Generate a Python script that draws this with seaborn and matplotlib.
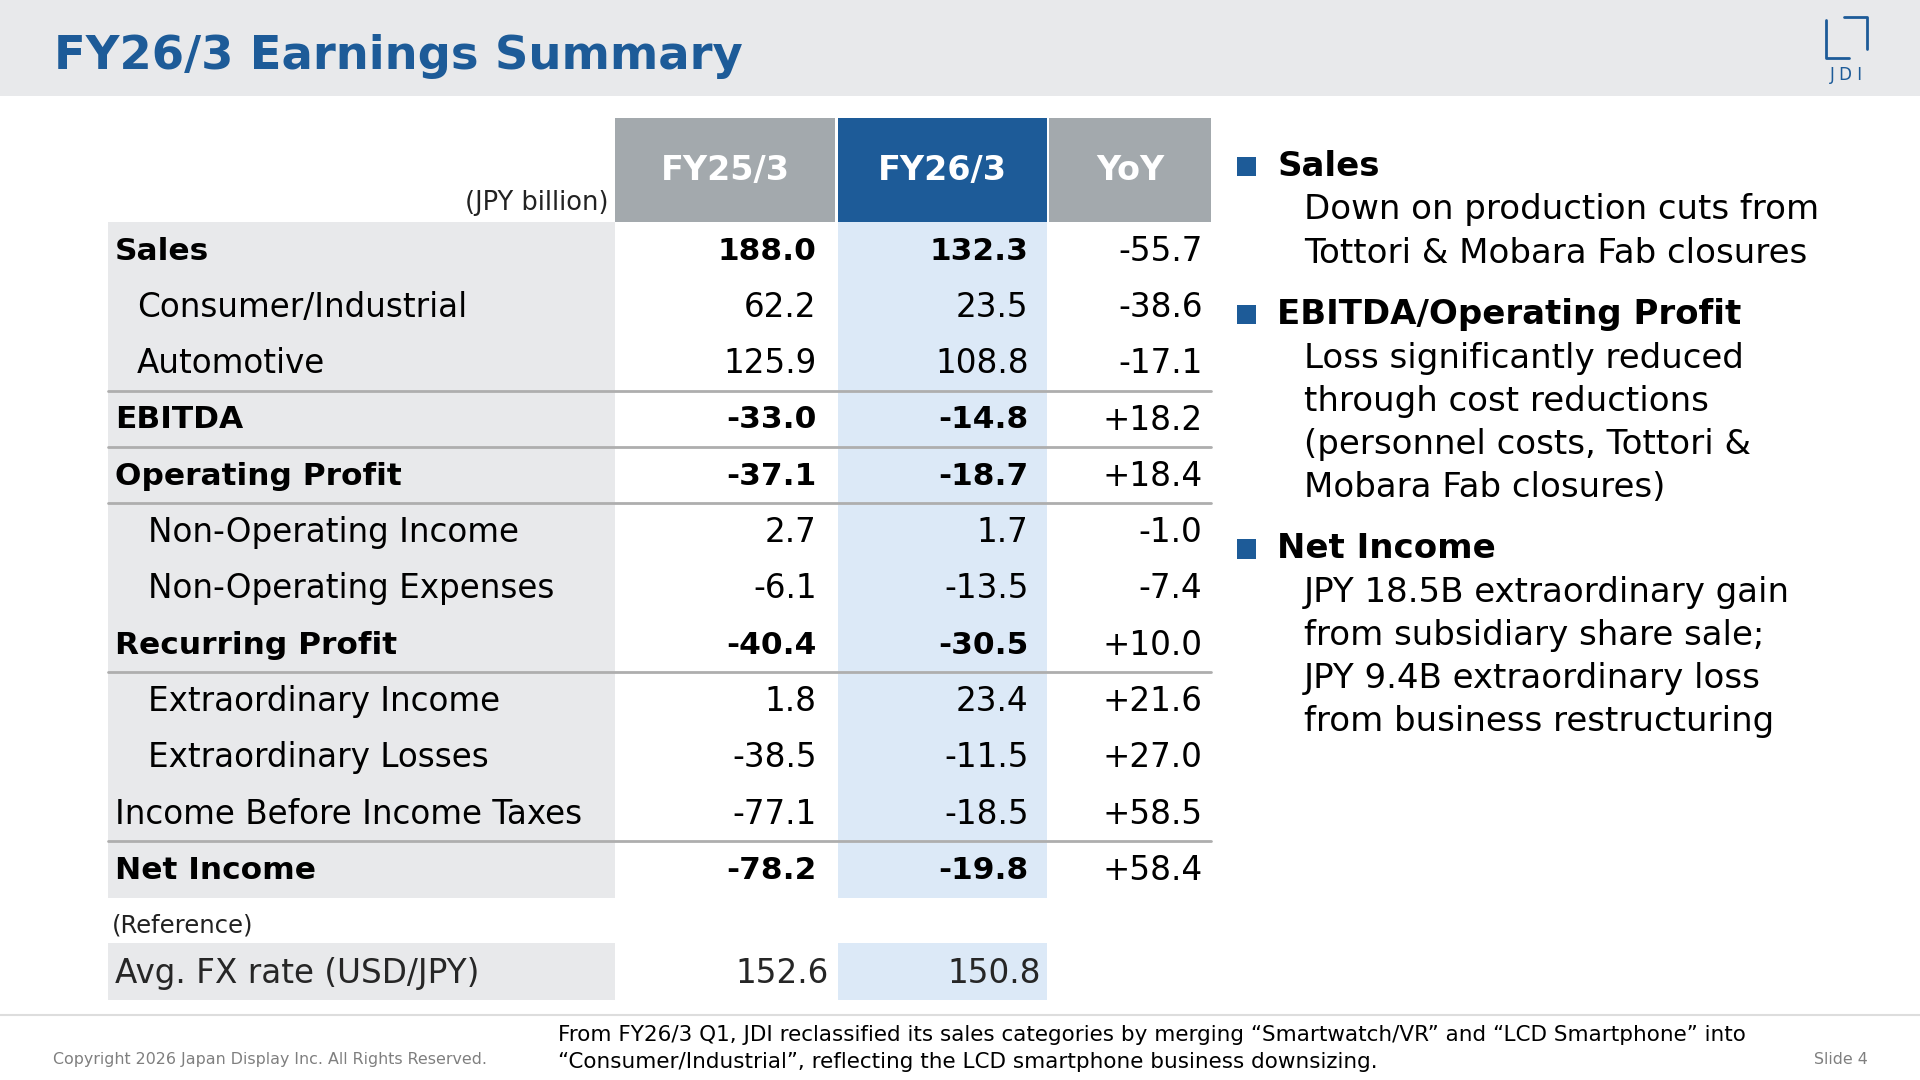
import matplotlib
matplotlib.use("Agg")
import matplotlib.pyplot as plt
import seaborn as sns
from matplotlib.patches import Rectangle

sns.set_theme(style="white")
plt.rcParams['font.family'] = ['DejaVu Sans']

title = "FY26/3 Earnings Summary"
columns = ["FY25/3", "FY26/3", "YoY"]
row_labels = ["Sales", "Consumer/Industrial", "Automotive", "EBITDA", "Operating Profit",
              "Non-Operating Income", "Non-Operating Expenses", "Recurring Profit",
              "Extraordinary Income", "Extraordinary Losses", "Income Before Income Taxes", "Net Income"]
fy25 = ["188.0", "62.2", "125.9", "-33.0", "-37.1", "2.7", "-6.1", "-40.4", "1.8", "-38.5", "-77.1", "-78.2"]
fy26 = ["132.3", "23.5", "108.8", "-14.8", "-18.7", "1.7", "-13.5", "-30.5", "23.4", "-11.5", "-18.5", "-19.8"]
yoy = ["-55.7", "-38.6", "-17.1", "+18.2", "+18.4", "-1.0", "-7.4", "+10.0", "+21.6", "+27.0", "+58.5", "+58.4"]
bold_rows = [True, False, False, True, True, False, False, True, False, False, False, True]
indent = [0, 1, 1, 0, 0, 2, 2, 0, 2, 2, 0, 0]
line_after = [2, 3, 4, 7, 10]
fx_label = "Avg. FX rate (USD/JPY)"
fx_values = ["152.6", "150.8"]
bullets = [("Sales", ["Down on production cuts from", "Tottori & Mobara Fab closures"]),
           ("EBITDA/Operating Profit", ["Loss significantly reduced", "through cost reductions",
                                        "(personnel costs, Tottori &", "Mobara Fab closures)"]),
           ("Net Income", ["JPY 18.5B extraordinary gain", "from subsidiary share sale;",
                           "JPY 9.4B extraordinary loss", "from business restructuring"])]

BLUE = "#1D5B98"
GRAY_BG = "#E8E9EB"
HEAD_GRAY = "#A3A9AD"
LIGHT_BLUE = "#DCE9F7"
REG = 23.5
BLD = 22.5

fig = plt.figure(figsize=(19.2, 10.8), dpi=100)
ax = fig.add_axes([0, 0, 1, 1])
ax.set_xlim(0, 1568)
ax.set_ylim(882, 0)
ax.axis("off")

def rect(x0, y0, x1, y1, c):
    ax.add_patch(Rectangle((x0, y0), x1 - x0, y1 - y0, color=c, lw=0))

rect(0, 0, 1568, 78, GRAY_BG)
ax.text(44, 46, title, fontsize=33.5, fontweight="bold", color=BLUE, va="center")
ax.plot([1491, 1491, 1510], [16, 47, 47], color=BLUE, lw=2)
ax.plot([1506, 1525, 1525], [14, 14, 40], color=BLUE, lw=2)
ax.text(1508, 61, "J D I", fontsize=12, color=BLUE, ha="center", va="center")

col_x = [(502, 682, HEAD_GRAY), (684, 855, BLUE), (857, 989, HEAD_GRAY)]
for (x0, x1, c), name in zip(col_x, columns):
    rect(x0, 96, x1, 181, c)
    ax.text((x0 + x1) / 2, 139, name, fontsize=24, fontweight="bold", color="white", ha="center", va="center")
ax.text(497, 166, "(JPY billion)", fontsize=18.5, ha="right", va="center", color="#222222")

top = 181
rh = 46
n = len(row_labels)
rect(88, top, 502, top + n * rh, GRAY_BG)
rect(684, top, 855, top + n * rh, LIGHT_BLUE)
xind = {0: 94, 1: 112, 2: 121}
for i in range(n):
    yc = top + rh * i + rh / 2 + 1
    b = bold_rows[i]
    fw = "bold" if b else "normal"
    fs = BLD if b else REG
    ax.text(xind[indent[i]], yc, row_labels[i], fontsize=fs, fontweight=fw, va="center", color="black")
    ax.text(667, yc, fy25[i], fontsize=fs, fontweight=fw, va="center", ha="right", color="black")
    ax.text(840, yc, fy26[i], fontsize=fs, fontweight=fw, va="center", ha="right", color="black")
    ax.text(982, yc, yoy[i], fontsize=REG, va="center", ha="right", color="black")
for i in line_after:
    y = top + rh * (i + 1)
    ax.plot([88, 989], [y, y], color="#AEAEAE", lw=2)

ax.text(91, 756, "(Reference)", fontsize=17.5, va="center", color="#222222")
rect(88, 770, 502, 817, GRAY_BG)
rect(684, 770, 855, 817, LIGHT_BLUE)
ax.text(94, 795, fx_label, fontsize=REG, va="center")
ax.text(677, 795, fx_values[0], fontsize=REG, va="center", ha="right")
ax.text(850, 795, fx_values[1], fontsize=REG, va="center", ha="right")

y = 136
for head, lines in bullets:
    rect(1010, y - 8, 1026, y + 8, BLUE)
    ax.text(1043, y, head, fontsize=24.5, fontweight="bold", va="center", color="black")
    y += 35.5
    for ln in lines:
        ax.text(1065, y, ln, fontsize=24.5, va="center", color="black")
        y += 35.2
    y += 15

ax.plot([0, 1568], [829, 829], color="#DDDDDD", lw=1.5)
ax.text(43, 865, "Copyright 2026 Japan Display Inc. All Rights Reserved.", fontsize=11.4, color="#7F7F7F", va="center")
ax.text(456, 845, "From FY26/3 Q1, JDI reclassified its sales categories by merging \u201cSmartwatch/VR\u201d and \u201cLCD Smartphone\u201d into",
        fontsize=15.5, va="center", color="black")
ax.text(456, 867, "\u201cConsumer/Industrial\u201d, reflecting the LCD smartphone business downsizing.",
        fontsize=15.5, va="center", color="black")
ax.text(1525, 865, "Slide 4", fontsize=11.4, color="#7F7F7F", va="center", ha="right")

fig.savefig("out.png", dpi=100, facecolor="white")
